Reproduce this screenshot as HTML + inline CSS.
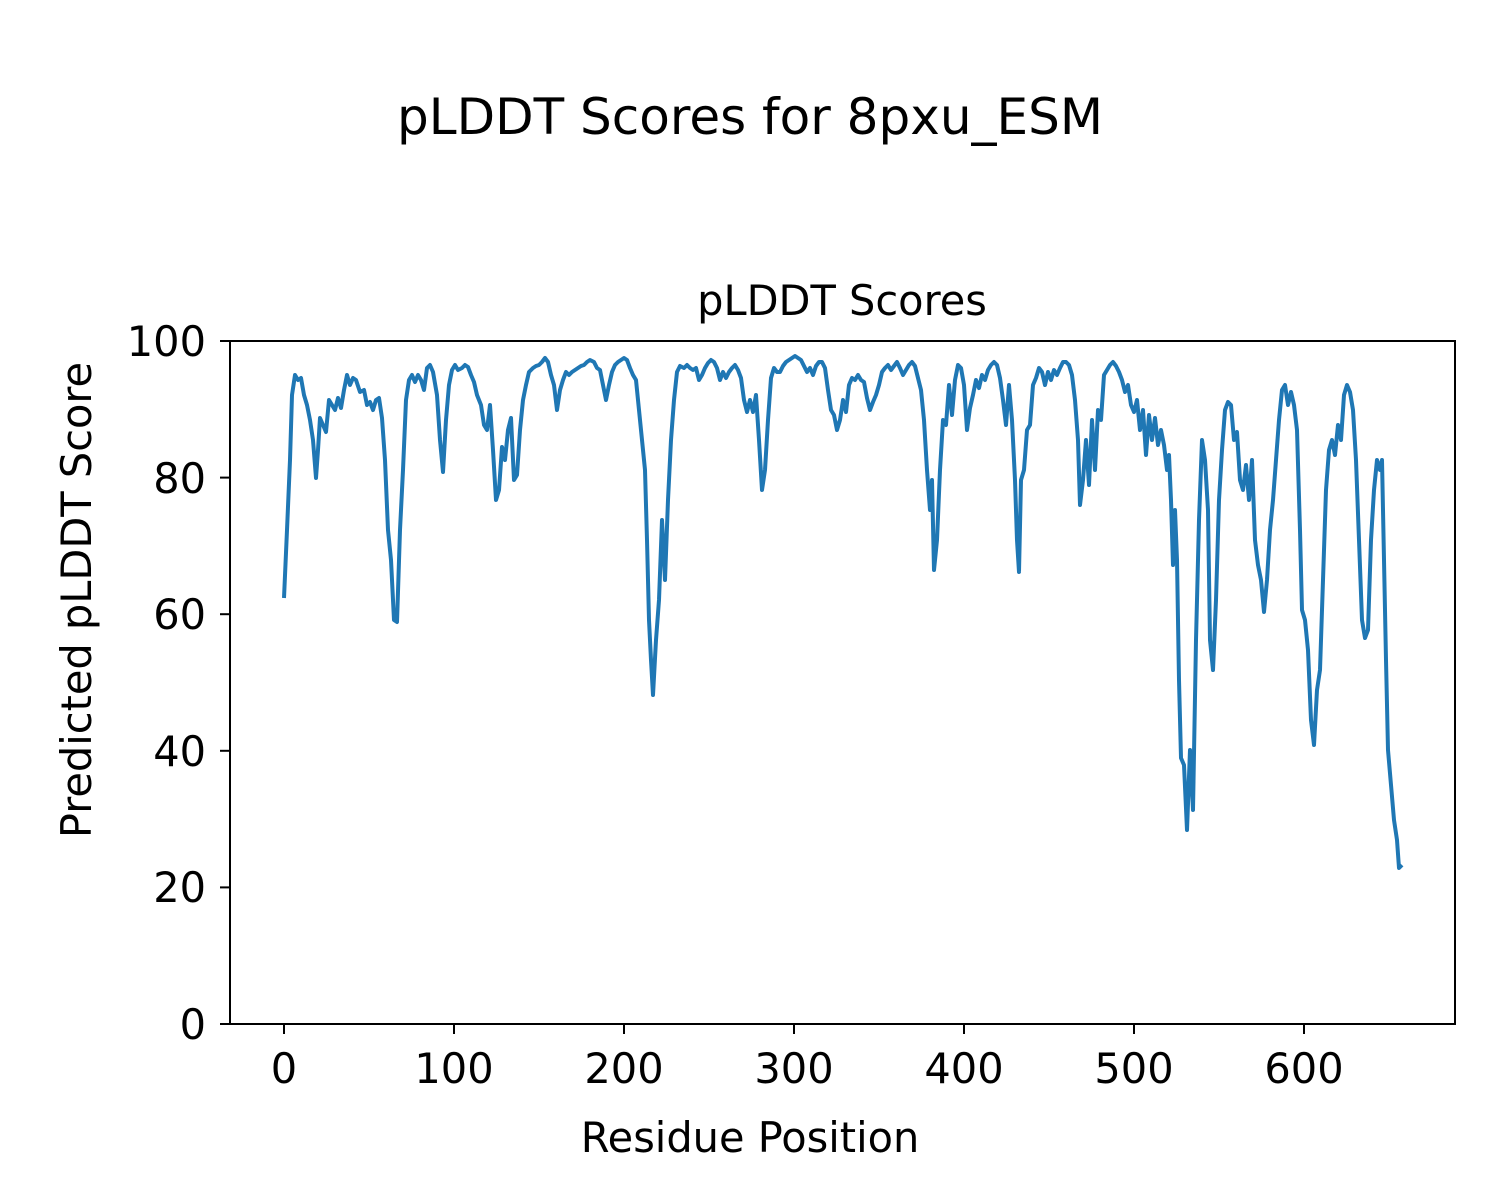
<!DOCTYPE html>
<html><head><meta charset="utf-8"><style>body{margin:0;background:#fff}svg{display:block}text{font-family:"DejaVu Sans","Liberation Sans",sans-serif;fill:#000}</style></head>
<body>
<svg width="1500" height="1200" viewBox="0 0 1500 1200" xmlns="http://www.w3.org/2000/svg">
<rect width="1500" height="1200" fill="#fff"/>
<text x="750" y="134" font-size="50" text-anchor="middle">pLDDT Scores for 8pxu_ESM</text>
<text x="842" y="315" font-size="41.5" text-anchor="middle">pLDDT Scores</text>
<polyline fill="none" stroke="#1f77b4" stroke-width="4" stroke-linejoin="round" points="284,598 287,530 290,460 292,395 295,375 298,380 301,378 304,395 307,405 310,420 313,440 316,478 318,450 320,418 323,425 326,432 329,400 332,405 335,410 338,398 341,408 344,390 347,375 350,385 353,378 356,380 360,392 364,390 367,405 370,402 373,410 376,400 379,398 382,418 385,460 388,530 391,560 394,620 397,622 400,530 403,470 406,400 409,380 412,375 415,382 418,375 421,380 424,390 427,368 430,365 433,372 437,395 440,440 443,472 446,420 449,385 452,370 455,365 458,370 462,368 465,365 468,367 471,375 474,382 477,395 481,405 484,425 487,430 490,405 493,450 496,500 499,490 502,447 505,460 508,430 511,418 514,480 517,475 520,430 523,400 526,385 529,372 533,368 536,366 539,365 542,362 545,358 548,362 551,375 554,385 557,410 560,390 563,380 566,372 569,375 572,372 575,370 578,368 581,366 584,365 587,362 590,360 594,362 597,368 600,370 603,385 606,400 609,385 612,372 615,365 618,362 621,360 624,358 627,360 630,368 633,375 636,380 639,410 642,440 645,470 647,540 649,620 651,660 653,695 656,640 659,600 662,520 665,580 668,500 671,440 674,400 677,372 680,366 684,368 687,365 690,368 693,370 696,368 699,380 702,375 705,368 708,363 711,360 714,362 717,368 720,380 723,372 726,378 729,372 732,368 735,365 738,370 741,378 744,400 747,412 750,400 753,412 756,395 759,440 762,490 765,470 768,420 771,378 774,368 777,372 780,372 783,366 786,362 789,360 792,358 795,356 798,358 801,360 804,366 807,372 810,368 813,375 816,366 819,362 822,362 825,368 828,390 831,410 834,415 837,430 840,420 843,400 846,412 849,385 852,378 855,380 858,375 861,380 864,382 867,398 870,410 873,402 876,395 879,385 882,372 885,368 888,365 891,370 894,366 897,362 900,368 903,375 906,370 909,365 912,362 915,366 918,378 921,390 924,420 927,470 930,510 932,480 934,570 937,540 940,470 943,420 946,425 949,385 952,415 955,380 958,365 961,368 964,385 967,430 970,408 973,395 976,380 979,388 982,375 985,380 988,370 991,365 994,362 997,365 1000,378 1003,400 1006,425 1009,385 1012,420 1015,480 1017,540 1019,572 1021,480 1024,470 1027,430 1030,425 1033,385 1036,378 1039,368 1042,372 1045,385 1048,372 1051,380 1054,370 1057,375 1060,368 1063,362 1066,362 1069,365 1072,375 1075,400 1078,440 1080,505 1083,480 1086,440 1089,485 1092,420 1095,470 1098,410 1101,420 1104,375 1107,370 1110,365 1113,362 1116,366 1119,372 1122,380 1125,392 1128,385 1131,405 1134,412 1137,400 1140,430 1143,410 1146,455 1149,415 1152,440 1155,418 1158,445 1161,430 1164,445 1167,470 1169,455 1171,500 1173,565 1175,510 1177,560 1179,680 1181,758 1184,765 1187,830 1190,750 1193,810 1196,640 1199,520 1202,440 1205,460 1208,510 1210,640 1213,670 1216,600 1219,500 1222,450 1225,410 1228,402 1231,405 1234,440 1237,432 1240,480 1243,490 1246,465 1249,500 1252,460 1255,540 1258,565 1261,580 1264,612 1267,580 1270,530 1273,500 1276,460 1279,420 1282,390 1285,385 1288,405 1291,392 1294,405 1297,430 1300,530 1302,610 1305,620 1308,650 1311,720 1314,745 1317,690 1320,670 1323,580 1326,490 1329,450 1332,440 1335,455 1338,425 1341,440 1344,395 1347,385 1350,392 1353,410 1356,460 1359,540 1362,620 1365,638 1368,630 1371,540 1374,490 1377,460 1380,470 1382,460 1384,560 1386,660 1388,750 1391,785 1394,820 1397,840 1399,868 1402,865"/>
<rect x="230" y="341" width="1225" height="683" fill="none" stroke="#000" stroke-width="2"/>
<g stroke="#000" stroke-width="2">
<line x1="220" y1="1024" x2="230" y2="1024"/><line x1="220" y1="887.4" x2="230" y2="887.4"/><line x1="220" y1="750.8" x2="230" y2="750.8"/><line x1="220" y1="614.2" x2="230" y2="614.2"/><line x1="220" y1="477.6" x2="230" y2="477.6"/><line x1="220" y1="341" x2="230" y2="341"/>
<line x1="284" y1="1024" x2="284" y2="1034"/><line x1="454" y1="1024" x2="454" y2="1034"/><line x1="624" y1="1024" x2="624" y2="1034"/><line x1="794" y1="1024" x2="794" y2="1034"/><line x1="964" y1="1024" x2="964" y2="1034"/><line x1="1134" y1="1024" x2="1134" y2="1034"/><line x1="1304" y1="1024" x2="1304" y2="1034"/>
</g>
<g font-size="41.5" text-anchor="end">
<text x="206" y="1039">0</text><text x="206" y="902">20</text><text x="206" y="766">40</text><text x="206" y="629">60</text><text x="206" y="493">80</text><text x="206" y="356">100</text>
</g>
<g font-size="41.5" text-anchor="middle">
<text x="284" y="1083">0</text><text x="454" y="1083">100</text><text x="624" y="1083">200</text><text x="794" y="1083">300</text><text x="964" y="1083">400</text><text x="1134" y="1083">500</text><text x="1304" y="1083">600</text>
</g>
<text x="750" y="1152" font-size="41.5" text-anchor="middle">Residue Position</text>
<text transform="translate(91,600) rotate(-90)" font-size="41.5" text-anchor="middle">Predicted pLDDT Score</text>
</svg>
</body></html>
